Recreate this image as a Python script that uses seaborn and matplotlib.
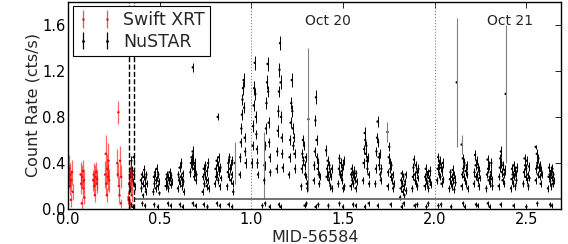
import numpy as np
import pandas as pd
import seaborn as sns
import matplotlib.pyplot as plt

# Swift XRT points (red)
swift_t = [0.003, 0.006, 0.009, 0.012, 0.015, 0.018, 0.021, 0.024,
           0.068, 0.071, 0.074, 0.077, 0.080, 0.083, 0.086, 0.089,
           0.137, 0.140, 0.143, 0.146, 0.149, 0.152, 0.155, 0.158,
           0.202, 0.205, 0.208, 0.211, 0.214, 0.217, 0.220, 0.223,
           0.268, 0.271, 0.274, 0.277, 0.280, 0.283, 0.286, 0.289,
           0.329, 0.332, 0.335, 0.338, 0.341, 0.344, 0.347, 0.350]
swift_rate = [0.28, 0.35, 0.20, 0.30, 0.08, 0.25, 0.32, 0.15,
              0.30, 0.22, 0.05, 0.28, 0.33, 0.18, 0.25, 0.10,
              0.25, 0.30, 0.20, 0.12, 0.28, 0.32, 0.22, 0.26,
              0.30, 0.48, 0.22, 0.12, 0.35, 0.28, 0.42, 0.25,
              0.40, 0.30, 0.84, 0.20, 0.12, 0.42, 0.05, 0.28,
              0.10, 0.22, 0.05, 0.28, 0.18, 0.30, 0.12, 0.25]
swift_err = [0.10, 0.12, 0.08, 0.10, 0.06, 0.09, 0.11, 0.07,
             0.11, 0.09, 0.05, 0.10, 0.10, 0.08, 0.10, 0.06,
             0.09, 0.10, 0.08, 0.06, 0.10, 0.09, 0.08, 0.09,
             0.12, 0.16, 0.10, 0.06, 0.13, 0.11, 0.15, 0.10,
             0.12, 0.10, 0.10, 0.09, 0.06, 0.13, 0.04, 0.10,
             0.06, 0.08, 0.04, 0.09, 0.07, 0.09, 0.06, 0.08]

# NuSTAR points, one row per orbit
nustar_t = [
    0.330, 0.333, 0.336, 0.339, 0.342, 0.345, 0.348, 0.351, 0.354, 0.357, 0.360, 0.363,
    0.397, 0.400, 0.403, 0.406, 0.409, 0.412, 0.415, 0.418, 0.421, 0.424, 0.427, 0.430,
    0.465, 0.468, 0.471, 0.474, 0.477, 0.480, 0.483, 0.486, 0.489, 0.492, 0.495, 0.498,
    0.532, 0.535, 0.538, 0.541, 0.544, 0.547, 0.550, 0.553, 0.556, 0.559, 0.562, 0.565,
    0.599, 0.602, 0.605, 0.608, 0.611, 0.614, 0.617, 0.620, 0.623, 0.626, 0.629, 0.632,
    0.667, 0.670, 0.673, 0.676, 0.679, 0.682, 0.685, 0.688, 0.691, 0.694, 0.697, 0.700,
    0.734, 0.737, 0.740, 0.743, 0.746, 0.749, 0.752, 0.755, 0.758, 0.761, 0.764, 0.767,
    0.801, 0.804, 0.807, 0.810, 0.813, 0.816, 0.819, 0.822, 0.825, 0.828, 0.831, 0.834,
    0.868, 0.871, 0.874, 0.877, 0.880, 0.883, 0.886, 0.889, 0.892, 0.895, 0.898, 0.901,
    0.936, 0.939, 0.942, 0.945, 0.948, 0.951, 0.954, 0.957, 0.960, 0.963, 0.966, 0.969,
    1.003, 1.006, 1.009, 1.012, 1.015, 1.018, 1.021, 1.024, 1.027, 1.030, 1.033, 1.036,
    1.070, 1.073, 1.076, 1.079, 1.082, 1.085, 1.088, 1.091, 1.094, 1.097, 1.100, 1.103,
    1.138, 1.141, 1.144, 1.147, 1.150, 1.153, 1.156, 1.159, 1.162, 1.165, 1.168, 1.171,
    1.205, 1.208, 1.211, 1.214, 1.217, 1.220, 1.223, 1.226, 1.229, 1.232, 1.235, 1.238,
    1.272, 1.275, 1.278, 1.281, 1.284, 1.287, 1.290, 1.293, 1.296, 1.299, 1.302, 1.305,
    1.340, 1.343, 1.346, 1.349, 1.352, 1.355, 1.358, 1.361, 1.364, 1.367, 1.370, 1.373,
    1.407, 1.410, 1.413, 1.416, 1.419, 1.422, 1.425, 1.428, 1.431, 1.434, 1.437, 1.440,
    1.474, 1.477, 1.480, 1.483, 1.486, 1.489, 1.492, 1.495, 1.498, 1.501, 1.504, 1.507,
    1.541, 1.544, 1.547, 1.550, 1.553, 1.556, 1.559, 1.562, 1.565, 1.568, 1.571, 1.574,
    1.609, 1.612, 1.615, 1.618, 1.621, 1.624, 1.627, 1.630, 1.633, 1.636, 1.639, 1.642,
    1.676, 1.679, 1.682, 1.685, 1.688, 1.691, 1.694, 1.697, 1.700, 1.703, 1.706, 1.709,
    1.743, 1.746, 1.749, 1.752, 1.755, 1.758, 1.761, 1.764, 1.767, 1.770, 1.773, 1.776,
    1.811, 1.814, 1.817, 1.820, 1.823, 1.826, 1.829, 1.832, 1.835, 1.838, 1.841, 1.844,
    1.878, 1.881, 1.884, 1.887, 1.890, 1.893, 1.896, 1.899, 1.902, 1.905, 1.908, 1.911,
    1.945, 1.948, 1.951, 1.954, 1.957, 1.960, 1.963, 1.966, 1.969, 1.972, 1.975, 1.978,
    2.013, 2.016, 2.019, 2.022, 2.025, 2.028, 2.031, 2.034, 2.037, 2.040, 2.043, 2.046,
    2.080, 2.083, 2.086, 2.089, 2.092, 2.095, 2.098, 2.101, 2.104, 2.107, 2.110, 2.113,
    2.147, 2.150, 2.153, 2.156, 2.159, 2.162, 2.165, 2.168, 2.171, 2.174, 2.177, 2.180,
    2.214, 2.217, 2.220, 2.223, 2.226, 2.229, 2.232, 2.235, 2.238, 2.241, 2.244, 2.247,
    2.282, 2.285, 2.288, 2.291, 2.294, 2.297, 2.300, 2.303, 2.306, 2.309, 2.312, 2.315,
    2.349, 2.352, 2.355, 2.358, 2.361, 2.364, 2.367, 2.370, 2.373, 2.376, 2.379, 2.382,
    2.416, 2.419, 2.422, 2.425, 2.428, 2.431, 2.434, 2.437, 2.440, 2.443, 2.446, 2.449,
    2.484, 2.487, 2.490, 2.493, 2.496, 2.499, 2.502, 2.505, 2.508, 2.511, 2.514, 2.517,
    2.551, 2.554, 2.557, 2.560, 2.563, 2.566, 2.569, 2.572, 2.575, 2.578, 2.581, 2.584,
    2.618, 2.621, 2.624, 2.627, 2.630, 2.633, 2.636, 2.639, 2.642, 2.645, 2.648, 2.651,
    0.680, 0.816, 2.551]
nustar_rate = [
    0.08, 0.22, 0.30, 0.18, 0.35, 0.42, 0.28, 0.33, 0.24, 0.45, 0.30, 0.20,
    0.25, 0.18, 0.30, 0.22, 0.12, 0.28, 0.34, 0.20, 0.26, 0.15, 0.30, 0.22,
    0.15, 0.28, 0.22, 0.32, 0.18, 0.25, 0.35, 0.27, 0.20, 0.30, 0.24, 0.14,
    0.20, 0.26, 0.30, 0.22, 0.28, 0.18, 0.25, 0.32, 0.27, 0.21, 0.29, 0.24,
    0.18, 0.30, 0.25, 0.36, 0.22, 0.28, 0.40, 0.26, 0.20, 0.31, 0.24, 0.15,
    0.32, 0.40, 0.45, 0.38, 0.50, 0.42, 0.35, 0.28, 0.40, 0.33, 0.25, 0.30,
    0.15, 0.28, 0.35, 0.22, 0.30, 0.38, 0.26, 0.20, 0.33, 0.25, 0.40, 0.18,
    0.22, 0.35, 0.28, 0.42, 0.30, 0.38, 0.25, 0.45, 0.33, 0.20, 0.36, 0.27,
    0.20, 0.32, 0.40, 0.28, 0.45, 0.35, 0.25, 0.38, 0.30, 0.42, 0.22, 0.15,
    0.30, 0.45, 0.58, 0.70, 0.82, 0.95, 1.05, 1.12, 0.88, 0.62, 0.50, 0.40,
    0.40, 0.55, 0.72, 0.90, 1.05, 1.27, 1.00, 0.80, 0.65, 0.52, 0.40, 0.30,
    0.25, 0.38, 0.55, 0.70, 0.92, 1.10, 1.26, 1.02, 0.75, 0.58, 0.45, 0.32,
    0.35, 0.50, 0.68, 0.85, 1.02, 1.21, 1.44, 1.10, 0.80, 0.62, 0.48, 0.36,
    0.30, 0.45, 0.60, 0.75, 0.92, 1.12, 0.85, 0.70, 0.55, 0.62, 0.48, 0.35,
    0.20, 0.35, 0.48, 0.60, 0.42, 0.55, 0.38, 0.30, 0.45, 0.28, 0.22, 0.18,
    0.25, 0.38, 0.50, 0.77, 0.97, 0.60, 0.45, 0.35, 0.40, 0.30, 0.22, 0.28,
    0.51, 0.28, 0.35, 0.42, 0.30, 0.25, 0.38, 0.32, 0.20, 0.28, 0.35, 0.18,
    0.22, 0.35, 0.44, 0.30, 0.40, 0.28, 0.33, 0.25, 0.38, 0.18, 0.42, 0.20,
    0.20, 0.30, 0.35, 0.25, 0.30, 0.22, 0.28, 0.33, 0.26, 0.18, 0.31, 0.24,
    0.25, 0.40, 0.52, 0.66, 0.60, 0.48, 0.55, 0.42, 0.35, 0.45, 0.30, 0.22,
    0.22, 0.35, 0.50, 0.62, 0.76, 0.58, 0.45, 0.38, 0.48, 0.30, 0.25, 0.35,
    0.20, 0.32, 0.45, 0.54, 0.40, 0.35, 0.28, 0.38, 0.25, 0.30, 0.18, 0.22,
    0.10, 0.18, 0.25, 0.31, 0.22, 0.15, 0.28, 0.20, 0.12, 0.24, 0.30, 0.16,
    0.18, 0.28, 0.36, 0.43, 0.30, 0.25, 0.38, 0.22, 0.32, 0.20, 0.27, 0.35,
    0.20, 0.28, 0.35, 0.25, 0.30, 0.22, 0.32, 0.18, 0.27, 0.24, 0.33, 0.21,
    0.25, 0.35, 0.45, 0.38, 0.30, 0.42, 0.28, 0.36, 0.22, 0.33, 0.40, 0.26,
    0.18, 0.26, 0.32, 0.22, 0.28, 0.20, 0.34, 0.25, 0.30, 0.17, 0.27, 0.23,
    0.20, 0.30, 0.44, 0.35, 0.28, 0.40, 0.25, 0.33, 0.22, 0.38, 0.30, 0.18,
    0.22, 0.32, 0.47, 0.38, 0.28, 0.42, 0.30, 0.25, 0.36, 0.20, 0.33, 0.27,
    0.18, 0.30, 0.43, 0.35, 0.25, 0.38, 0.28, 0.22, 0.32, 0.40, 0.26, 0.20,
    0.20, 0.28, 0.36, 0.44, 0.50, 0.40, 0.32, 0.25, 0.38, 0.30, 0.22, 0.34,
    0.18, 0.26, 0.35, 0.30, 0.22, 0.38, 0.28, 0.33, 0.20, 0.31, 0.25, 0.36,
    0.22, 0.32, 0.44, 0.38, 0.28, 0.35, 0.42, 0.25, 0.30, 0.20, 0.37, 0.27,
    0.25, 0.35, 0.48, 0.40, 0.30, 0.44, 0.36, 0.28, 0.38, 0.22, 0.33, 0.30,
    0.18, 0.28, 0.36, 0.30, 0.24, 0.33, 0.20, 0.27, 0.35, 0.22, 0.30, 0.25,
    1.23, 0.80, 0.54]
nustar_err = [
    0.03, 0.03, 0.03, 0.03, 0.04, 0.04, 0.03, 0.04, 0.03, 0.04, 0.03, 0.03,
    0.03, 0.03, 0.03, 0.03, 0.02, 0.03, 0.04, 0.03, 0.03, 0.03, 0.03, 0.03,
    0.03, 0.03, 0.03, 0.04, 0.03, 0.03, 0.04, 0.03, 0.03, 0.03, 0.03, 0.02,
    0.03, 0.03, 0.03, 0.03, 0.03, 0.03, 0.03, 0.04, 0.03, 0.03, 0.03, 0.03,
    0.03, 0.03, 0.03, 0.04, 0.03, 0.03, 0.04, 0.03, 0.03, 0.03, 0.03, 0.03,
    0.04, 0.04, 0.04, 0.04, 0.05, 0.04, 0.04, 0.03, 0.04, 0.04, 0.03, 0.03,
    0.03, 0.03, 0.04, 0.03, 0.03, 0.04, 0.03, 0.03, 0.04, 0.03, 0.04, 0.03,
    0.03, 0.04, 0.03, 0.04, 0.03, 0.04, 0.03, 0.04, 0.04, 0.03, 0.04, 0.03,
    0.03, 0.04, 0.04, 0.03, 0.04, 0.04, 0.03, 0.04, 0.03, 0.04, 0.03, 0.03,
    0.03, 0.04, 0.04, 0.05, 0.05, 0.05, 0.06, 0.06, 0.05, 0.04, 0.04, 0.04,
    0.04, 0.04, 0.05, 0.05, 0.06, 0.06, 0.05, 0.05, 0.04, 0.04, 0.04, 0.03,
    0.03, 0.04, 0.04, 0.05, 0.05, 0.06, 0.06, 0.05, 0.05, 0.04, 0.04, 0.03,
    0.04, 0.04, 0.05, 0.05, 0.05, 0.06, 0.06, 0.06, 0.05, 0.04, 0.04, 0.04,
    0.03, 0.04, 0.04, 0.05, 0.05, 0.06, 0.05, 0.05, 0.04, 0.04, 0.04, 0.04,
    0.03, 0.04, 0.04, 0.04, 0.04, 0.04, 0.04, 0.03, 0.04, 0.03, 0.03, 0.03,
    0.03, 0.04, 0.04, 0.05, 0.06, 0.04, 0.04, 0.04, 0.04, 0.03, 0.03, 0.03,
    0.05, 0.03, 0.04, 0.04, 0.03, 0.03, 0.04, 0.03, 0.03, 0.03, 0.04, 0.03,
    0.03, 0.04, 0.04, 0.03, 0.04, 0.03, 0.04, 0.03, 0.04, 0.03, 0.04, 0.03,
    0.03, 0.03, 0.04, 0.03, 0.03, 0.03, 0.03, 0.04, 0.03, 0.03, 0.03, 0.03,
    0.03, 0.04, 0.04, 0.05, 0.04, 0.04, 0.04, 0.04, 0.04, 0.04, 0.03, 0.03,
    0.03, 0.04, 0.04, 0.04, 0.05, 0.04, 0.04, 0.04, 0.04, 0.03, 0.03, 0.04,
    0.03, 0.03, 0.04, 0.04, 0.04, 0.04, 0.03, 0.04, 0.03, 0.03, 0.03, 0.03,
    0.02, 0.03, 0.03, 0.03, 0.03, 0.03, 0.03, 0.03, 0.02, 0.03, 0.03, 0.03,
    0.03, 0.03, 0.04, 0.04, 0.03, 0.03, 0.04, 0.03, 0.03, 0.03, 0.03, 0.04,
    0.03, 0.03, 0.04, 0.03, 0.03, 0.03, 0.03, 0.03, 0.03, 0.03, 0.04, 0.03,
    0.03, 0.04, 0.04, 0.04, 0.03, 0.04, 0.03, 0.04, 0.03, 0.04, 0.04, 0.03,
    0.03, 0.03, 0.03, 0.03, 0.03, 0.03, 0.04, 0.03, 0.03, 0.03, 0.03, 0.03,
    0.03, 0.03, 0.04, 0.04, 0.03, 0.04, 0.03, 0.04, 0.03, 0.04, 0.03, 0.03,
    0.03, 0.04, 0.04, 0.04, 0.03, 0.04, 0.03, 0.03, 0.04, 0.03, 0.04, 0.03,
    0.03, 0.03, 0.04, 0.04, 0.03, 0.04, 0.03, 0.03, 0.04, 0.04, 0.03, 0.03,
    0.03, 0.03, 0.04, 0.04, 0.05, 0.04, 0.04, 0.03, 0.04, 0.03, 0.03, 0.04,
    0.03, 0.03, 0.04, 0.03, 0.03, 0.04, 0.03, 0.04, 0.03, 0.03, 0.03, 0.04,
    0.03, 0.04, 0.04, 0.04, 0.03, 0.04, 0.04, 0.03, 0.03, 0.03, 0.04, 0.03,
    0.03, 0.04, 0.04, 0.04, 0.03, 0.04, 0.04, 0.03, 0.04, 0.03, 0.04, 0.03,
    0.03, 0.03, 0.04, 0.03, 0.03, 0.04, 0.03, 0.03, 0.04, 0.03, 0.03, 0.03,
    0.04, 0.03, 0.02]

# faint NuSTAR bins sitting below the background level
low_t = [0.345, 0.352, 0.405, 0.420, 0.470, 0.490, 0.545, 0.560, 0.610, 0.625,
         0.680, 0.695, 0.740, 0.760, 0.812, 0.828, 0.875, 0.895, 1.060, 1.075,
         1.100, 1.150, 1.160, 1.290, 1.300, 1.350, 1.365, 1.420, 1.480, 1.500,
         1.555, 1.570, 1.620, 1.640, 1.690, 1.760, 1.820, 1.830, 1.890, 1.905,
         1.955, 1.965, 2.020, 2.035, 2.090, 2.155, 2.165, 2.225, 2.235, 2.290,
         2.300, 2.360, 2.430, 2.500, 2.560, 2.630, 2.640]
low_rate = [0.04, 0.02, 0.05, 0.03, 0.04, 0.02, 0.05, 0.03, 0.04, 0.02,
            0.05, 0.03, 0.04, 0.02, 0.05, 0.03, 0.04, 0.02, 0.03, 0.05,
            0.02, 0.04, 0.02, 0.03, 0.05, 0.02, 0.04, 0.03, 0.05, 0.02,
            0.04, 0.03, 0.02, 0.05, 0.03, 0.04, 0.02, 0.05, 0.03, 0.04,
            0.02, 0.05, 0.03, 0.04, 0.02, 0.05, 0.02, 0.04, 0.03, 0.05,
            0.02, 0.04, 0.03, 0.02, 0.05, 0.04, 0.03]
low_err = [0.02] * len(low_t)

# bins with very large uncertainties (drawn grey)
big_t = [0.909, 1.071, 1.311, 1.742, 2.120, 2.147, 2.387]
big_rate = [0.40, 0.38, 0.78, 0.67, 1.10, 0.56, 1.00]
big_err = [0.18, 0.29, 0.62, 0.09, 0.56, 0.08, 0.60]

bkg_level = 0.09
day_marks = [1.0, 2.0]
day_labels = ["Oct 20", "Oct 21"]
day_label_t = [1.42, 2.41]
swift_limits = [0.331, 0.358]

sns.set_style("white")
plt.rcParams["font.family"] = ["DejaVu Sans"]

fig = plt.figure(figsize=(5.68, 2.44), dpi=100)
ax = fig.add_axes([0.12, 0.143, 0.868, 0.85])

swift = pd.DataFrame({"t": swift_t, "rate": swift_rate})
nustar = pd.DataFrame({"t": nustar_t + low_t, "rate": nustar_rate + low_rate})

ax.errorbar(big_t, big_rate, yerr=big_err, fmt="none", ecolor="0.5", elinewidth=0.8)
ax.errorbar(nustar["t"], nustar["rate"], yerr=nustar_err + low_err, fmt="none",
            ecolor="black", elinewidth=0.7)
ax.errorbar(swift["t"], swift["rate"], yerr=swift_err, fmt="none",
            ecolor="red", elinewidth=0.9, alpha=0.6)
sns.scatterplot(data=nustar, x="t", y="rate", color="black", s=3, marker="o",
                edgecolor="none", ax=ax, legend=False)
sns.scatterplot(x=big_t, y=big_rate, color="black", s=3, edgecolor="none", ax=ax, legend=False)
sns.scatterplot(data=swift, x="t", y="rate", color="red", s=3, marker="o",
                edgecolor="none", ax=ax, legend=False)

ax.hlines(bkg_level, 0.36, 2.69, color="0.4", lw=1.3)
for x in swift_limits:
    ax.axvline(x, color="black", ls="--", lw=1.0)
for x in day_marks:
    ax.axvline(x, color="0.5", ls=":", lw=0.8)
for x, lab in zip(day_label_t, day_labels):
    ax.text(x, 1.63, lab, ha="center", va="center", fontsize=10)

# legend proxies
h_swift = ax.errorbar([np.nan], [np.nan], yerr=[0.1], fmt=".", color="red", ms=2,
                      elinewidth=0.9, alpha=0.7)
h_nu = ax.errorbar([np.nan], [np.nan], yerr=[0.1], fmt=".", color="black", ms=2,
                   elinewidth=0.9)
leg = ax.legend([h_swift, h_nu], ["Swift XRT", "NuSTAR"], loc="upper left",
                numpoints=2, fontsize=12.5, frameon=True, fancybox=False,
                framealpha=1, edgecolor="black", borderaxespad=0.25,
                handlelength=2.0, borderpad=0.3, labelspacing=0.2,
                handletextpad=0.6)
leg.get_frame().set_linewidth(0.8)

ax.set_xlim(0, 2.69)
ax.set_ylim(0, 1.8)
ax.set_xticks([0.0, 0.5, 1.0, 1.5, 2.0, 2.5])
ax.set_yticks([0.0, 0.4, 0.8, 1.2, 1.6])
ax.xaxis.set_major_formatter(plt.FormatStrFormatter("%.1f"))
ax.yaxis.set_major_formatter(plt.FormatStrFormatter("%.1f"))
ax.tick_params(direction="in", top=True, right=True, length=4, width=0.6,
               labelsize=10.5, pad=2, colors="black")
for sp in ax.spines.values():
    sp.set_color("black")
    sp.set_linewidth(1.0)
ax.set_xlabel("MID-56584", fontsize=11.5, labelpad=2)
ax.set_ylabel("Count Rate (cts/s)", fontsize=11.5, labelpad=1)

fig.savefig("out.png", dpi=100)
